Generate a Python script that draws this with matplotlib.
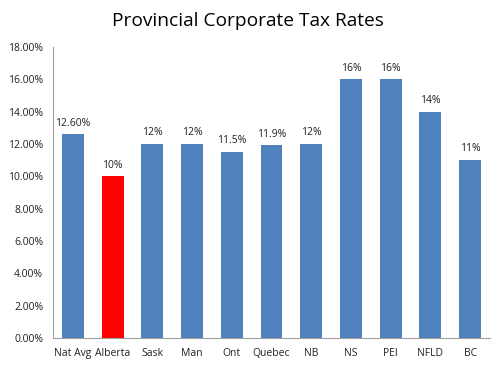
import matplotlib
matplotlib.use("Agg")
import matplotlib.pyplot as plt
import numpy as np

categories = ["Nat Avg", "Alberta", "Sask", "Man", "Ont", "Quebec", "NB", "NS", "PEI", "NFLD", "BC"]
values = [12.6, 10, 12, 12, 11.5, 11.9, 12, 16, 16, 14, 11]
labels = ["12.60%", "10%", "12%", "12%", "11.5%", "11.9%", "12%", "16%", "16%", "14%", "11%"]
colors = ["#4F81BD", "#FF0000"] + ["#4F81BD"] * 9

plt.rcParams['font.family'] = ['Open Sans', 'DejaVu Sans']
fig = plt.figure(figsize=(5, 3.75), dpi=100)
ax = fig.add_axes([0.106, 0.099, 0.874, 0.776])
x = np.arange(len(categories))
bars = ax.bar(x, values, width=0.55, color=colors)
for xi, v, lab in zip(x, values, labels):
    ax.text(xi, v + 0.35, lab, ha="center", va="bottom", fontsize=7.5, color="#222222")
ax.set_xlim(-0.5, len(categories) - 0.5)
ax.set_ylim(0, 18)
ax.set_yticks(np.arange(0, 18.1, 2))
ax.set_yticklabels([f"{t:.2f}%" for t in np.arange(0, 18.1, 2)], fontsize=7.5, color="#222222")
ax.set_xticks(x)
ax.set_xticklabels(categories, fontsize=7.5, color="#222222")
for s in ["top", "right"]:
    ax.spines[s].set_visible(False)
for s in ["left", "bottom"]:
    ax.spines[s].set_color("#A0A0A0")
ax.tick_params(axis="both", length=0, pad=7)
fig.text(0.495, 0.945, "Provincial Corporate Tax Rates", ha="center", va="center", fontsize=13.8, color="#000000")
fig.savefig("out.png", dpi=100)
